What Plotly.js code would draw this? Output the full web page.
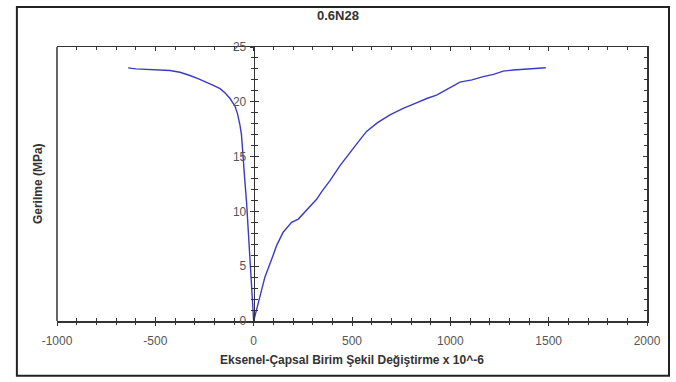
<!DOCTYPE html>
<html><head><meta charset="utf-8">
<script src="https://cdn.plot.ly/plotly-3.0.1.min.js"></script>
<style>html,body{margin:0;padding:0;background:#fff;}#c{width:676px;height:382px;}</style>
</head><body><div id="c"></div>
<script>
// Lateral (capsal) strain branch, x 10^-6
const lateralStrain = [0, -5, -10, -15, -19, -24, -30, -36, -44, -50, -56, -62, -70, -82, -95, -120, -145, -171, -205, -239, -280, -324, -375, -425, -527, -600, -638];
const lateralStress = [0, 1.5, 3.1, 4.4, 5.9, 8.0, 9.5, 10.8, 12.6, 14.0, 15.5, 17.0, 17.9, 18.9, 19.6, 20.3, 20.8, 21.2, 21.5, 21.8, 22.1, 22.4, 22.7, 22.85, 22.9, 23.0, 23.1];
// Axial (eksenel) strain branch, x 10^-6
const axialStrain = [0, 28, 57, 91, 117, 150, 193, 227, 269, 320, 346, 388, 440, 490, 530, 574, 630, 693, 760, 828, 880, 930, 990, 1049, 1110, 1167, 1220, 1269, 1320, 1371, 1420, 1485];
const axialStress = [0, 2.0, 4.0, 5.6, 6.9, 8.1, 9.0, 9.3, 10.1, 11.1, 11.8, 12.8, 14.2, 15.4, 16.3, 17.3, 18.1, 18.8, 19.4, 19.9, 20.3, 20.6, 21.2, 21.8, 22.0, 22.3, 22.5, 22.8, 22.9, 22.95, 23.0, 23.1];
const xTickVals = [-1000, -500, 0, 500, 1000, 1500, 2000];
const yTickVals = [0, 5, 10, 15, 20, 25];

const lineStyle = {color: '#3a3ac8', width: 1.4};
const data = [
  {x: lateralStrain, y: lateralStress, type: 'scatter', mode: 'lines', line: lineStyle, xaxis: 'x', yaxis: 'y', hoverinfo: 'none'},
  {x: axialStrain, y: axialStress, type: 'scatter', mode: 'lines', line: lineStyle, xaxis: 'x', yaxis: 'y', hoverinfo: 'none'},
  {x: [], y: [], xaxis: 'x2', yaxis: 'y2', type: 'scatter'},
  {x: [], y: [], xaxis: 'x', yaxis: 'y3', type: 'scatter'}
];
const axColor = '#333';
const fam = 'Arial, Liberation Sans, sans-serif';
const tickFont = {family: fam, size: 12, color: '#555'};
const layout = {
  width: 676, height: 382,
  margin: {l: 57, r: 29, t: 47, b: 61},
  paper_bgcolor: '#fff', plot_bgcolor: '#fff',
  showlegend: false,
  title: {text: '<b>0.6N28</b>', x: 0.5, xanchor: 'center', y: 0.96, yanchor: 'middle',
          font: {family: fam, size: 13, color: '#333'}},
  xaxis: {
    range: [-1000, 2000], tickvals: xTickVals, ticktext: xTickVals.map(String),
    showgrid: false, zeroline: false, showline: true, linecolor: axColor, linewidth: 1.5,
    mirror: 'ticks', ticks: 'inside', ticklen: 4, tickcolor: axColor,
    minor: {dtick: 100, tick0: 0, ticks: 'inside', ticklen: 3, tickcolor: axColor},
    tickfont: tickFont, ticklabelstandoff: 8,
    title: {text: '<b>Eksenel-Çapsal Birim Şekil Değiştirme x 10^-6</b>', standoff: 8,
            font: {family: fam, size: 12, color: '#333'}}
  },
  xaxis2: {
    overlaying: 'x', anchor: 'y', range: [-1000, 2000], tickvals: xTickVals,
    showgrid: false, zeroline: false, showline: false, showticklabels: false,
    ticks: 'outside', ticklen: 4, tickcolor: axColor,
    minor: {dtick: 100, tick0: 0, ticks: 'outside', ticklen: 3, tickcolor: axColor}
  },
  yaxis: {
    range: [0, 25], tickvals: yTickVals, anchor: 'free', position: 1/3,
    showgrid: false, zeroline: false, showline: true, linecolor: axColor, linewidth: 1.5,
    ticks: 'outside', ticklen: 4, tickcolor: axColor,
    minor: {dtick: 1, tick0: 0, ticks: 'outside', ticklen: 3, tickcolor: axColor},
    tickfont: tickFont, ticklabelstandoff: 1
  },
  yaxis2: {
    overlaying: 'y', anchor: 'free', position: 1/3, range: [0, 25], tickvals: yTickVals,
    showgrid: false, zeroline: false, showline: false, showticklabels: false,
    ticks: 'inside', ticklen: 4, tickcolor: axColor,
    minor: {dtick: 1, tick0: 0, ticks: 'inside', ticklen: 3, tickcolor: axColor}
  },
  yaxis3: {
    overlaying: 'y', anchor: 'x', side: 'right', range: [0, 25], tickvals: yTickVals,
    showgrid: false, zeroline: false, showline: true, linecolor: axColor, linewidth: 1.5,
    showticklabels: false, ticks: 'inside', ticklen: 4, tickcolor: axColor,
    minor: {dtick: 1, tick0: 0, ticks: 'inside', ticklen: 3, tickcolor: axColor}
  },
  annotations: [{
    text: '<b>Gerilme (MPa)</b>', textangle: -90, xref: 'paper', yref: 'paper',
    x: -0.032, y: 0.5, showarrow: false, xanchor: 'center', yanchor: 'middle',
    font: {family: fam, size: 12, color: '#333'}
  }],
  shapes: [
    {type: 'line', xref: 'paper', yref: 'paper', x0: 0, x1: 0, y0: 0, y1: 1, line: {color: axColor, width: 1.5}},
    {type: 'rect', xref: 'paper', yref: 'paper', x0: -0.068, x1: 1.0373, y0: -0.2, y1: 1.146,
     line: {color: '#222', width: 2}, fillcolor: 'rgba(0,0,0,0)'}
  ]
};
Plotly.newPlot('c', data, layout, {staticPlot: true, displayModeBar: false});
</script></body></html>
